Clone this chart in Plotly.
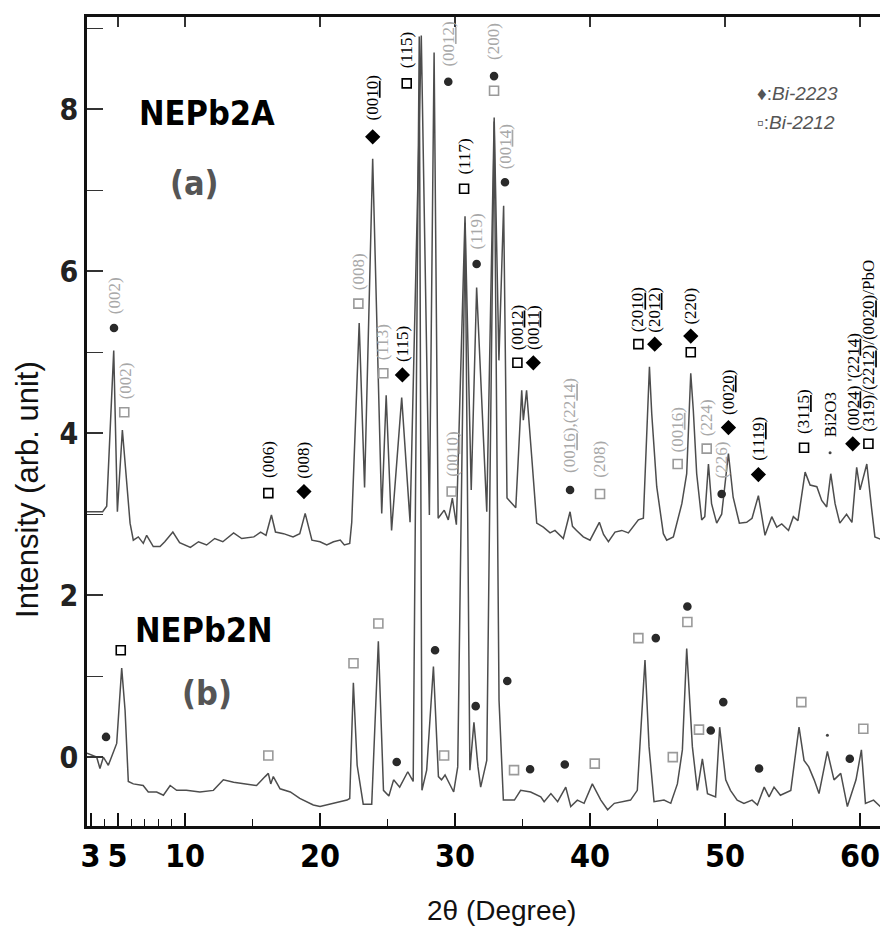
import plotly.graph_objects as go

# ---------------- data: trace (a) NEPb2A ----------------
a_x = [2.74, 3.9, 4.2, 4.72, 4.99, 5.36, 5.93, 6.17, 6.54, 6.91, 7.16, 7.65, 8.15, 8.5, 9.1, 9.6,
       10.4, 11.0, 11.6, 12.2, 12.8, 13.6, 14.2, 15.1, 15.6, 16.0, 16.4, 16.7, 17.3, 18.0, 18.5,
       18.9, 19.4, 20.0, 20.5, 21.0, 21.5, 21.8, 22.2, 22.35, 22.9, 23.3, 23.9, 24.57, 24.9, 25.3,
       26.05, 26.67, 27.5, 28.1, 28.45, 28.75, 29.2, 29.5, 29.8, 30.1, 30.74, 31.2, 31.6, 32.35,
       32.9, 33.25, 33.6, 33.85, 34.5, 34.94, 35.06, 35.3, 35.68, 36.05, 36.54, 37.04, 37.4,
       38.02, 38.52, 38.7, 39.0, 39.5, 40.0, 40.69, 41.0, 41.36, 41.85, 42.35, 42.84, 43.58,
       43.95, 44.4, 44.57, 44.94, 45.43, 45.68, 46.17, 46.8, 47.16, 47.46, 47.65, 47.9, 48.27,
       48.5, 48.77, 49.0, 49.38, 49.75, 50.25, 50.6, 51.06, 51.6, 52.0, 52.47, 52.96, 53.46,
       53.83, 54.2, 54.7, 55.06, 55.4, 55.93, 56.3, 56.8, 57.16, 57.53, 57.83, 58.15, 58.5,
       59.0, 59.4, 59.75, 60.0, 60.5, 60.87, 61.1, 61.7, 62.07]
a_y = [3.03, 3.03, 3.1, 5.02, 3.03, 4.04, 2.89, 2.68, 2.72, 2.64, 2.74, 2.6, 2.6, 2.66, 2.78, 2.65,
       2.59, 2.66, 2.62, 2.7, 2.66, 2.77, 2.7, 2.72, 2.78, 2.74, 2.99, 2.78, 2.76, 2.72, 2.76,
       3.01, 2.68, 2.66, 2.62, 2.66, 2.68, 2.62, 2.64, 2.9, 5.36, 3.33, 7.39, 3.01, 4.47, 2.8,
       4.44, 2.9, 8.91, 2.99, 8.7, 2.95, 3.05, 2.93, 3.2, 2.87, 6.68, 3.3, 5.8, 3.03,
       7.9, 4.9, 6.81, 3.2, 3.08, 4.53, 4.16, 4.53, 3.71, 2.89, 2.84, 2.77, 2.8,
       2.7, 3.03, 2.85, 2.8, 2.72, 2.68, 2.9, 2.75, 2.66, 2.78, 2.8, 2.77, 2.93,
       2.95, 4.82, 4.24, 3.34, 2.76, 2.68, 2.72, 3.13, 3.5, 4.74, 4.28, 3.5, 2.93,
       2.97, 3.62, 3.13, 2.89, 3.0, 3.75, 3.21, 2.89, 2.9, 2.95, 3.23, 2.74, 2.97,
       2.84, 2.88, 2.8, 2.97, 2.92, 3.52, 3.36, 3.34, 3.17, 3.09, 3.5, 3.13, 2.89,
       3.0, 2.9, 3.58, 3.3, 3.62, 3.05, 2.72, 2.68, 2.74]

# ---------------- data: trace (b) NEPb2N ----------------
b_x = [2.74, 3.46, 3.7, 3.95, 4.32, 4.69, 4.94, 5.31, 5.56, 5.8, 6.17, 6.9, 7.28, 7.9, 8.4, 8.9,
       9.38, 10.1, 11.1, 12.1, 12.84, 13.6, 14.6, 15.3, 15.93, 16.17, 16.35, 16.54, 17.04, 17.8,
       18.5, 19.5, 20.0, 21.0, 22.0, 22.2, 22.47, 22.75, 23.2, 23.83, 24.32, 24.7, 25.1, 25.45,
       25.9, 26.5, 26.9, 27.35, 27.55, 27.9, 28.4, 28.77, 29.0, 29.26, 29.9, 30.2, 30.75, 31.1,
       31.4, 31.7, 31.9, 32.35, 32.9, 33.26, 33.58, 34.4, 34.86, 35.6, 36.35, 36.6, 37.1, 37.6,
       38.2, 38.57, 39.06, 39.56, 40.17, 40.8, 41.3, 41.8, 42.5, 43.0, 43.5, 44.07, 44.37, 44.74,
       45.48, 45.98, 46.47, 46.84, 47.16, 47.58, 47.95, 48.32, 48.7, 49.3, 49.6, 50.05, 50.4,
       50.9, 51.4, 52.0, 52.4, 52.9, 53.26, 53.63, 54.1, 54.87, 55.48, 55.85, 56.2, 56.6, 56.96,
       57.58, 58.07, 58.57, 59.06, 59.7, 60.1, 60.4, 61.0, 61.5, 62.07]
b_y = [0.05, 0.0, -0.14, 0.0, -0.1, 0.05, 0.17, 1.1, 0.58, -0.3, -0.33, -0.35, -0.43, -0.43, -0.47, -0.35,
       -0.41, -0.41, -0.43, -0.41, -0.28, -0.31, -0.33, -0.35, -0.24, -0.2, -0.33, -0.24, -0.39, -0.43,
       -0.51, -0.59, -0.61, -0.57, -0.53, -0.51, 0.92, -0.1, -0.58, -0.58, 1.43, -0.41, -0.48, -0.28,
       -0.37, -0.18, -0.3, 8.9, -0.41, -0.16, 1.12, -0.24, -0.28, -0.22, -0.43, -0.12, 6.6, -0.16,
       0.43, -0.12, -0.37, -0.04, 7.85, 0.7, -0.53, -0.53, -0.41, -0.43, -0.49, -0.55, -0.45, -0.55,
       -0.37, -0.61, -0.53, -0.57, -0.33, -0.53, -0.65, -0.57, -0.55, -0.53, -0.41, 1.2, 0.13, -0.55,
       -0.53, -0.57, -0.33, 0.09, 1.34, 0.13, -0.41, -0.02, -0.45, -0.49, 0.37, -0.28, -0.41,
       -0.53, -0.57, -0.53, -0.59, -0.37, -0.49, -0.37, -0.47, -0.41, 0.37, -0.04, -0.12, -0.28, -0.45,
       0.07, -0.28, -0.2, -0.61, -0.28, 0.09, -0.57, -0.53, -0.61, -0.57]

# ---------------- peak markers ----------------
BLACK = "#000000"
GRAY = "#9a9a9a"
DOT = "#2a2a2a"
mk_x = [4.74, 5.5, 16.17, 18.81, 22.84, 23.9, 24.69, 26.1, 26.42, 29.5, 29.75, 30.67, 31.6,
        32.89, 32.89, 33.7, 34.62, 35.8, 38.52, 40.74, 43.58, 44.79, 46.49, 47.46, 47.46,
        48.64, 49.75, 50.25, 52.47, 55.85, 59.46, 60.62,
        # trace (b)
        4.15, 5.24, 16.17, 22.48, 24.32, 25.68, 28.52, 29.19, 31.53, 33.87, 34.37, 35.56,
        38.13, 40.35, 43.58, 44.87, 47.21, 47.21, 46.13, 48.07, 48.94, 49.87, 52.52, 55.65,
        59.24, 60.24]
mk_y = [5.30, 4.26, 3.26, 3.28, 5.6, 7.66, 4.74, 4.72, 8.32, 8.34, 3.28, 7.02, 6.09,
        8.41, 8.23, 7.1, 4.87, 4.87, 3.3, 3.25, 5.1, 5.1, 3.62, 5.0, 5.2,
        3.81, 3.25, 4.07, 3.49, 3.82, 3.87, 3.87,
        0.25, 1.32, 0.02, 1.16, 1.65, -0.06, 1.32, 0.02, 0.63, 0.94, -0.16, -0.15,
        -0.09, -0.08, 1.47, 1.47, 1.86, 1.67, 0.0, 0.34, 0.33, 0.68, -0.14, 0.68,
        -0.02, 0.35]
mk_sym = ["circle", "square-open", "square-open", "diamond", "square-open", "diamond", "square-open",
          "diamond", "square-open", "circle", "square-open", "square-open", "circle",
          "circle", "square-open", "circle", "square-open", "diamond", "circle", "square-open",
          "square-open", "diamond", "square-open", "square-open", "diamond",
          "square-open", "circle", "diamond", "diamond", "square-open", "diamond", "square-open",
          "circle", "square-open", "square-open", "square-open", "square-open", "circle", "circle",
          "square-open", "circle", "circle", "square-open", "circle",
          "circle", "square-open", "square-open", "circle", "circle", "square-open", "square-open",
          "square-open", "circle", "circle", "circle", "square-open",
          "circle", "square-open"]
mk_col = [DOT, GRAY, BLACK, BLACK, GRAY, BLACK, GRAY, BLACK, BLACK, DOT, GRAY, BLACK, DOT,
          DOT, GRAY, DOT, BLACK, BLACK, DOT, GRAY, BLACK, BLACK, GRAY, BLACK, BLACK,
          GRAY, DOT, BLACK, BLACK, BLACK, BLACK, BLACK,
          DOT, BLACK, GRAY, GRAY, GRAY, DOT, DOT, GRAY, DOT, DOT, GRAY, DOT,
          DOT, GRAY, GRAY, DOT, DOT, GRAY, GRAY, GRAY, DOT, DOT, DOT, GRAY,
          DOT, GRAY]

# Bi2O3 tiny dots
bi_x = [57.78, 57.58]
bi_y = [3.76, 0.27]

# ---------------- peak labels (vertical text) ----------------
lb_x = [4.74, 5.55, 16.17, 18.81, 22.84, 23.9, 24.69, 26.1, 26.42, 29.5, 29.75, 30.67, 31.6,
        32.89, 33.7, 34.62, 35.8, 38.52, 40.74, 43.58, 44.79, 46.49, 47.46, 48.64, 49.75,
        50.25, 52.47, 55.85, 57.78, 59.46, 60.62]
lb_y = [5.44, 4.4, 3.42, 3.42, 5.74, 7.84, 4.88, 4.86, 8.48, 8.5, 3.44, 7.17, 6.24,
        8.58, 7.24, 5.0, 5.0, 3.48, 3.42, 5.22, 5.22, 3.74, 5.32, 3.94, 3.42,
        4.2, 3.64, 3.96, 3.92, 4.0, 4.0]
lb_text = ["(002)", "(002)", "(006)", "(008)", "(008)", "(00<u>10</u>)", "(113)", "(115)", "(115)",
           "(00<u>12</u>)", "(00<u>10</u>)", "(117)", "(119)", "(200)", "(00<u>14</u>)",
           "(00<u>12</u>)", "(00<u>11</u>)", "(00<u>16</u>),(22<u>14</u>)", "(208)",
           "(20<u>10</u>)", "(20<u>12</u>)", "(00<u>16</u>)", "(220)", "(224)", "(226)",
           "(00<u>20</u>)", "(11<u>19</u>)", "(31<u>15</u>)", "Bi2O3",
           "(00<u>24</u>) '(22<u>14</u>)", "(319)/(22<u>12</u>)/(00<u>20</u>)/PbO"]
lb_col = [GRAY, GRAY, BLACK, BLACK, GRAY, BLACK, GRAY, BLACK, BLACK, GRAY, GRAY, BLACK, GRAY,
          GRAY, GRAY, BLACK, BLACK, GRAY, GRAY, BLACK, BLACK, GRAY, BLACK, GRAY, GRAY,
          BLACK, BLACK, BLACK, BLACK, BLACK, BLACK]

x_ticks = [3, 5, 10, 20, 30, 40, 50, 60]
x_minor = [4, 6, 7, 8, 9, 15, 25, 35, 45, 55]
x_top_ticks = [5, 10, 20, 30, 40, 50, 60]
y_ticks = [0, 2, 4, 6, 8]
y_minor = [1, 3, 5, 7, 9]

COND = "DejaVu Sans Condensed, DejaVu Sans, sans-serif"
SERIF = "Liberation Serif, DejaVu Serif, serif"
SANS = "Liberation Sans, Arial, sans-serif"

fig = go.Figure()
line_style = dict(color="#4d4d4d", width=1.5)
fig.add_trace(go.Scatter(x=a_x, y=a_y, mode="lines", line=line_style, hoverinfo="skip"))
fig.add_trace(go.Scatter(x=b_x, y=b_y, mode="lines", line=line_style, hoverinfo="skip"))

sizes = [9 if s == "square-open" else (10 if s == "diamond" else 7) for s in mk_sym]
fig.add_trace(go.Scatter(
    x=mk_x, y=mk_y, mode="markers",
    marker=dict(symbol=mk_sym, color=mk_col, size=sizes, opacity=1,
                line=dict(width=1.6, color=mk_col)),
    hoverinfo="skip"))
fig.add_trace(go.Scatter(x=bi_x, y=bi_y, mode="markers",
                         marker=dict(symbol="circle", color="#444", size=3), hoverinfo="skip"))

annotations = []
for x, y, t, c in zip(lb_x, lb_y, lb_text, lb_col):
    annotations.append(dict(
        x=x, y=y, xref="x", yref="y", text=t, showarrow=False, textangle=-90,
        xanchor="center", yanchor="bottom",
        font=dict(family=SERIF, size=17, color=c if c == BLACK else "#a8a8a8")))

# sample names
for txt, px, py, col in [("NEPb2A", 0.1498, 0.881, "#000"), ("(a)", 0.1348, 0.795, "#555"),
                         ("NEPb2N", 0.146, 0.2423, "#000"), ("(b)", 0.1498, 0.1644, "#555")]:
    annotations.append(dict(x=px, y=py, xref="paper", yref="paper", text=txt, showarrow=False,
                            xanchor="center", yanchor="middle",
                            font=dict(family=COND, size=34, color=col, weight="bold")))

# phase key
annotations.append(dict(x=0.8876, y=0.906, xref="paper", yref="paper", text="♦:<i>Bi-2223</i>",
                        showarrow=False, xanchor="center", yanchor="middle",
                        font=dict(family=SANS, size=19, color="#555")))
annotations.append(dict(x=0.885, y=0.869, xref="paper", yref="paper", text="▫:<i>Bi-2212</i>",
                        showarrow=False, xanchor="center", yanchor="middle",
                        font=dict(family=SANS, size=19, color="#555")))

# axis titles
annotations.append(dict(x=0.518, y=-0.1045, xref="paper", yref="paper", text="2θ (Degree)",
                        showarrow=False, xanchor="center", yanchor="middle",
                        font=dict(family=SANS, size=28, color="#111")))
annotations.append(dict(x=-0.0737, y=0.4166, xref="paper", yref="paper",
                        text="Intensity (arb. unit)", textangle=-90,
                        showarrow=False, xanchor="center", yanchor="middle",
                        font=dict(family=SANS, size=31, color="#111")))

# The page body adds an 8 px offset, so the figure is 8 px smaller and margins are shifted.
fig.update_layout(
    width=880, height=919,
    margin=dict(l=79, r=0, t=9, b=101, autoexpand=False),
    paper_bgcolor="white", plot_bgcolor="white",
    showlegend=False,
    annotations=annotations,
    xaxis=dict(range=[2.74, 62.07], showgrid=False, zeroline=False, automargin=False,
               showline=True, linecolor="#111", linewidth=2.5,
               ticks="inside", tickvals=x_ticks, ticktext=[str(v) for v in x_ticks],
               ticklen=13, tickwidth=1.5, tickcolor="#111",
               minor=dict(tickmode="array", tickvals=x_minor, ticks="inside", ticklen=7,
                          tickwidth=1.3, tickcolor="#111", showgrid=False),
               tickfont=dict(family=COND, size=32, color="#000", weight="bold")),
    xaxis2=dict(range=[2.74, 62.07], overlaying="x", side="top", showgrid=False, zeroline=False,
                showline=True, linecolor="#111", linewidth=2.5, automargin=False,
                ticks="inside", tickvals=x_top_ticks, ticklen=10, tickwidth=1.5,
                tickcolor="#333", showticklabels=False),
    yaxis=dict(range=[-0.85, 9.14], showgrid=False, zeroline=False, automargin=False,
               showline=True, linecolor="#111", linewidth=2.5,
               ticks="inside", tickvals=y_ticks, ticktext=[str(v) for v in y_ticks],
               ticklen=16, tickwidth=1.5, tickcolor="#333",
               minor=dict(tickmode="array", tickvals=y_minor, ticks="inside", ticklen=16,
                          tickwidth=1.3, tickcolor="#333", showgrid=False),
               tickfont=dict(family=COND, size=30, color="#222", weight="bold")),
)
# invisible trace so the top axis is drawn
fig.add_trace(go.Scatter(x=[10], y=[0], xaxis="x2", mode="markers",
                         marker=dict(opacity=0), hoverinfo="skip"))

fig.write_html("out.html")
